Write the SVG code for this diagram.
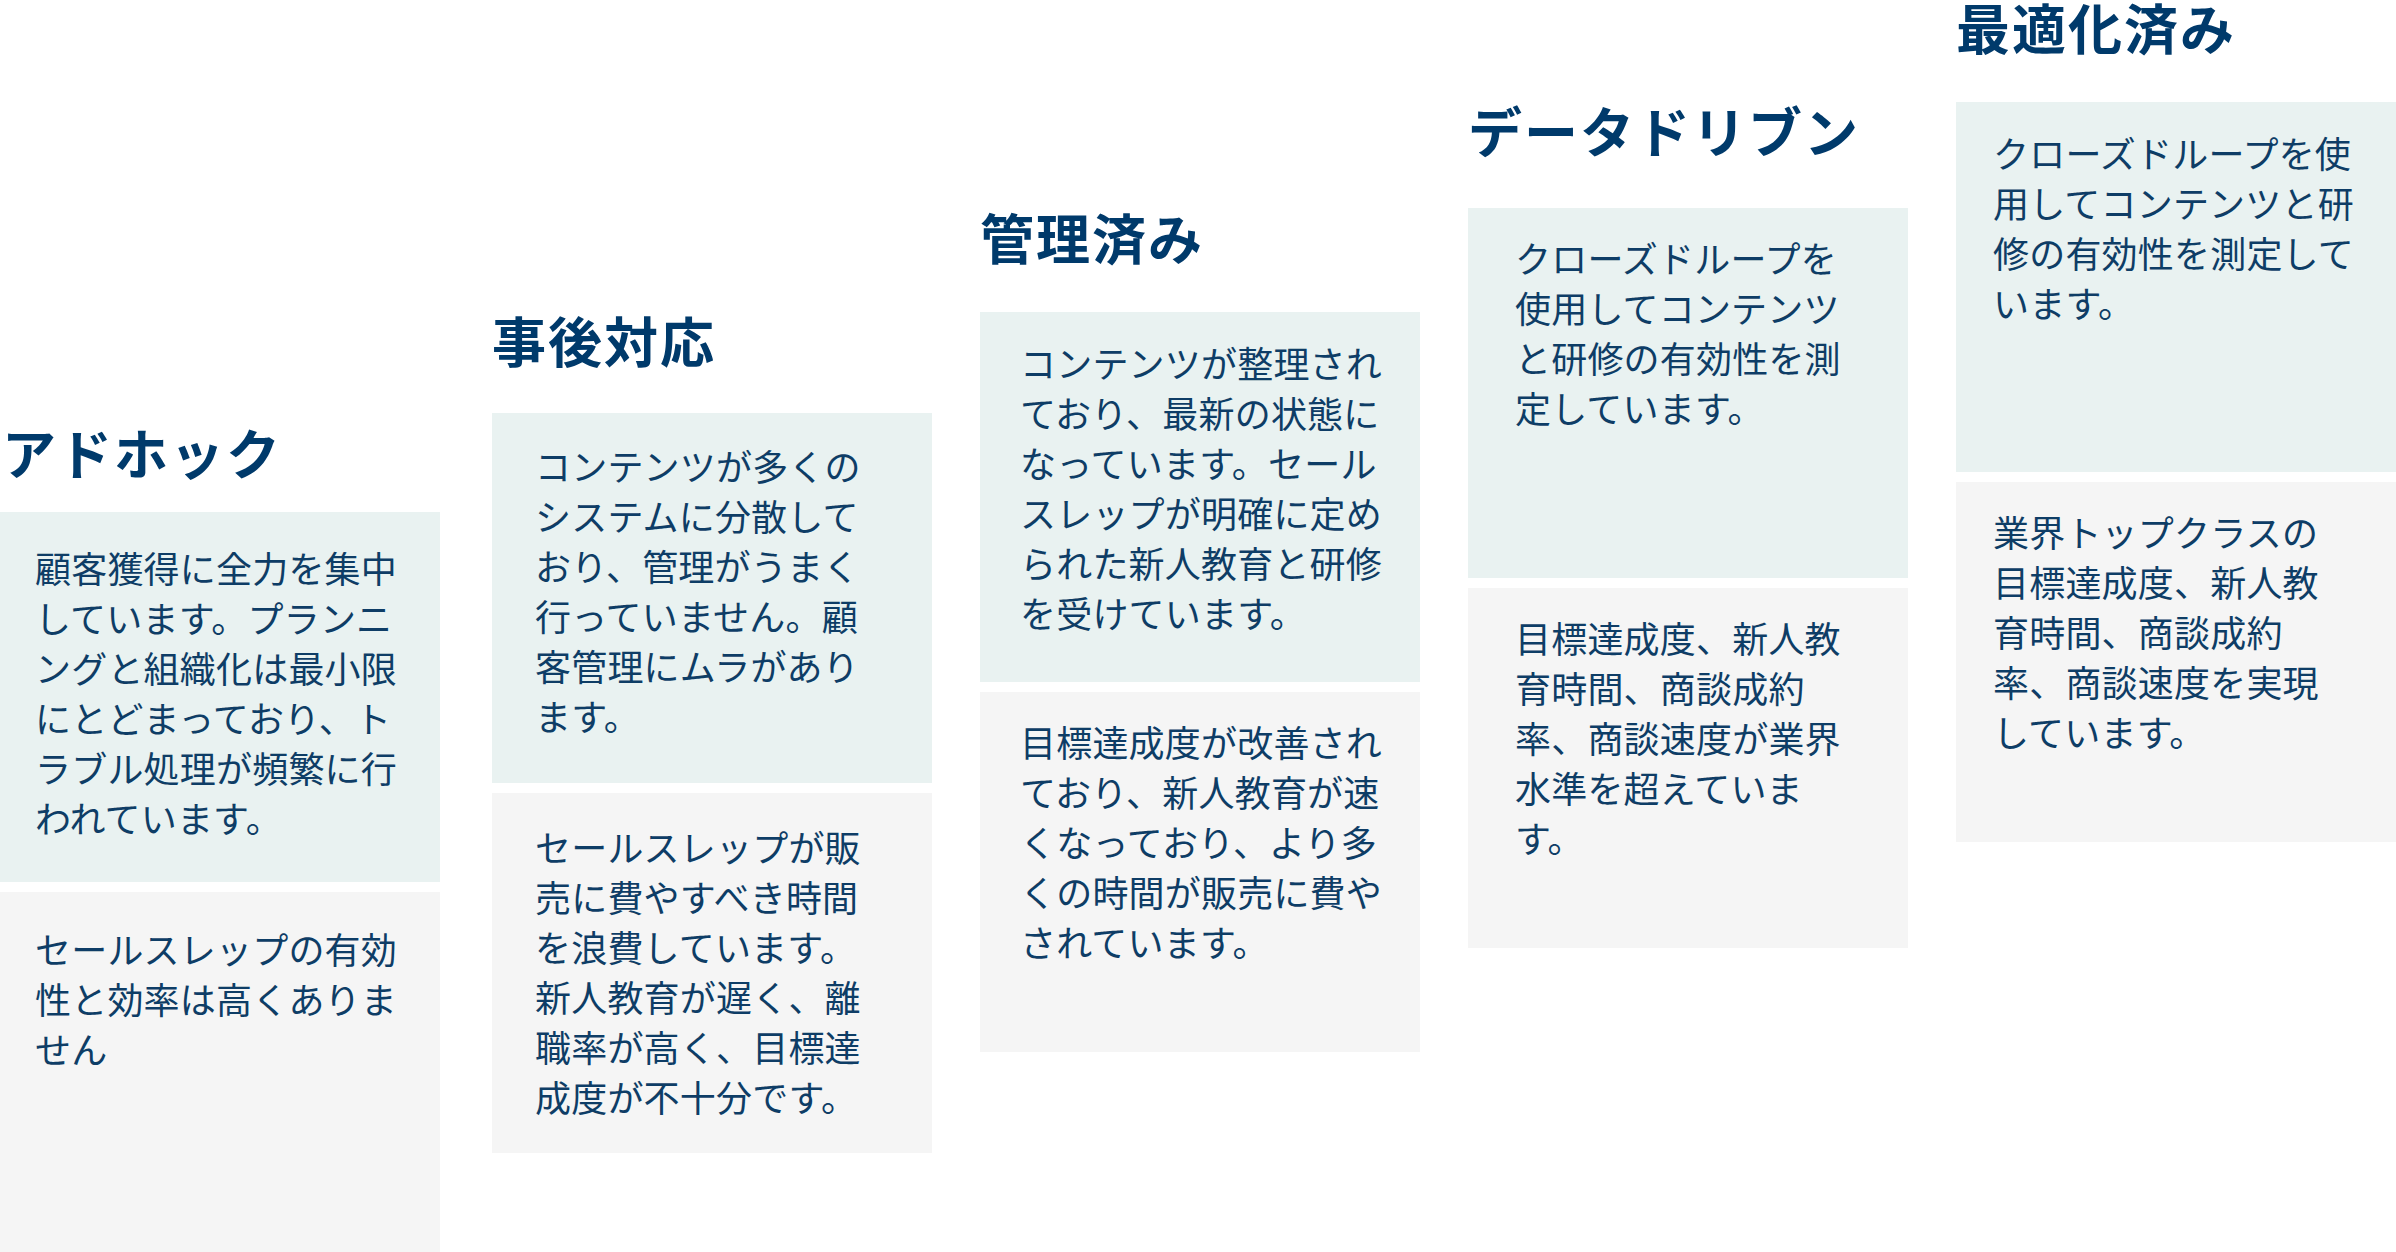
<svg xmlns="http://www.w3.org/2000/svg" width="2396" height="1252" viewBox="0 0 2396 1252">
<style>
.t{font-family:"Noto Sans CJK JP","Noto Sans",sans-serif;font-weight:700;font-size:54px;fill:#003a6b;letter-spacing:2px}
.b{font-family:"Noto Sans CJK JP","Noto Sans",sans-serif;font-size:36px;fill:#0e3d66;letter-spacing:0.2px}
.a{fill:#e9f2f1}.c{fill:#f5f5f5}
</style>
<rect width="2396" height="1252" fill="#fff"/>
<g id="adhoc">
<text class="t" x="2" y="475">アドホック</text>
<rect class="a" x="0" y="512" width="440" height="370"/>
<rect class="c" x="0" y="892" width="440" height="360"/>
<text class="b"><tspan x="35" y="583">顧客獲得に全力を集中</tspan><tspan x="35" y="633">しています。プランニ</tspan><tspan x="35" y="683">ングと組織化は最小限</tspan><tspan x="35" y="733">にとどまっており、ト</tspan><tspan x="35" y="783">ラブル処理が頻繁に行</tspan><tspan x="35" y="833">われています。</tspan></text>
<text class="b"><tspan x="35" y="964">セールスレップの有効</tspan><tspan x="35" y="1014">性と効率は高くありま</tspan><tspan x="35" y="1064">せん</tspan></text>
</g>
<g id="reactive">
<text class="t" x="492" y="363">事後対応</text>
<rect class="a" x="492" y="413" width="440" height="370"/>
<rect class="c" x="492" y="793" width="440" height="360"/>
<text class="b"><tspan x="535" y="481">コンテンツが多くの</tspan><tspan x="535" y="531">システムに分散して</tspan><tspan x="535" y="581">おり、管理がうまく</tspan><tspan x="535" y="631">行っていません。顧</tspan><tspan x="535" y="681">客管理にムラがあり</tspan><tspan x="535" y="731">ます。</tspan></text>
<text class="b"><tspan x="535" y="862">セールスレップが販</tspan><tspan x="535" y="912">売に費やすべき時間</tspan><tspan x="535" y="962">を浪費しています。</tspan><tspan x="535" y="1012">新人教育が遅く、離</tspan><tspan x="535" y="1062">職率が高く、目標達</tspan><tspan x="535" y="1112">成度が不十分です。</tspan></text>
</g>
<g id="managed">
<text class="t" x="980" y="260">管理済み</text>
<rect class="a" x="980" y="312" width="440" height="370"/>
<rect class="c" x="980" y="692" width="440" height="360"/>
<text class="b"><tspan x="1020" y="378">コンテンツが整理され</tspan><tspan x="1020" y="428">ており、最新の状態に</tspan><tspan x="1020" y="478">なっています。セール</tspan><tspan x="1020" y="528">スレップが明確に定め</tspan><tspan x="1020" y="578">られた新人教育と研修</tspan><tspan x="1020" y="628">を受けています。</tspan></text>
<text class="b"><tspan x="1020" y="757">目標達成度が改善され</tspan><tspan x="1020" y="807">ており、新人教育が速</tspan><tspan x="1020" y="857">くなっており、より多</tspan><tspan x="1020" y="907">くの時間が販売に費や</tspan><tspan x="1020" y="957">されています。</tspan></text>
</g>
<g id="datadriven">
<text class="t" x="1468" y="153">データドリブン</text>
<rect class="a" x="1468" y="208" width="440" height="370"/>
<rect class="c" x="1468" y="588" width="440" height="360"/>
<text class="b"><tspan x="1515" y="273">クローズドループを</tspan><tspan x="1515" y="323">使用してコンテンツ</tspan><tspan x="1515" y="373">と研修の有効性を測</tspan><tspan x="1515" y="423">定しています。</tspan></text>
<text class="b"><tspan x="1515" y="653">目標達成度、新人教</tspan><tspan x="1515" y="703">育時間、商談成約</tspan><tspan x="1515" y="753">率、商談速度が業界</tspan><tspan x="1515" y="803">水準を超えていま</tspan><tspan x="1515" y="853">す。</tspan></text>
</g>
<g id="optimized">
<text class="t" x="1956" y="50">最適化済み</text>
<rect class="a" x="1956" y="102" width="440" height="370"/>
<rect class="c" x="1956" y="482" width="440" height="360"/>
<text class="b"><tspan x="1993" y="168">クローズドループを使</tspan><tspan x="1993" y="218">用してコンテンツと研</tspan><tspan x="1993" y="268">修の有効性を測定して</tspan><tspan x="1993" y="318">います。</tspan></text>
<text class="b"><tspan x="1993" y="547">業界トップクラスの</tspan><tspan x="1993" y="597">目標達成度、新人教</tspan><tspan x="1993" y="647">育時間、商談成約</tspan><tspan x="1993" y="697">率、商談速度を実現</tspan><tspan x="1993" y="747">しています。</tspan></text>
</g>
<g id="connectors"/>
</svg>
